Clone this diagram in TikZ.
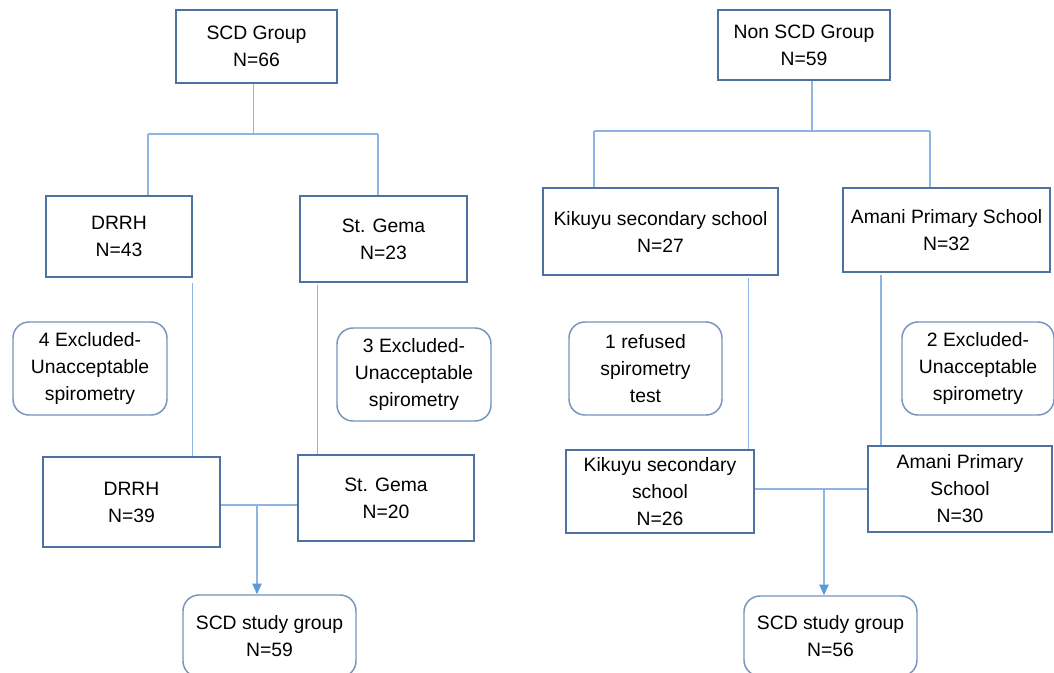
\documentclass[tikz,border=0pt]{standalone}
\usepackage{fontspec}
\setmainfont{Liberation Sans}
\usetikzlibrary{arrows.meta}
\definecolor{boxcol}{RGB}{79,113,160}
\definecolor{linecol}{RGB}{141,180,226}
\definecolor{roundcol}{RGB}{118,148,188}
\definecolor{tipcol}{RGB}{91,155,213}
\tikzset{
  sz/.style 2 args={minimum width=#1*0.75pt,minimum height=#2*0.75pt},
  txt/.style={align=center,inner sep=0pt,font=\fontsize{14.5}{20.25}\selectfont},
  box/.style={txt,draw=boxcol,line width=1.1pt},
  rbox/.style={txt,draw=roundcol,line width=1.1pt,rounded corners=12pt},
  link/.style={draw=linecol,line width=0.9pt},
  arr/.style={link,-{Triangle[width=7pt,length=8pt,color=tipcol]}}
}
\begin{document}
\begin{tikzpicture}[x=0.75pt,y=-0.75pt]
\useasboundingbox (0,0) rectangle (1054,672);

\node[box,sz={161}{73}] (scd) at (256.5,46.5) {SCD Group\\N=66};
\node[box,sz={172}{70}] (nscd) at (804,45) {Non SCD Group\\N=59};

\node[box,sz={146}{81}] (drrh) at (119,236.5) {DRRH\\N=43};
\node[box,sz={167}{86}] (gema) at (383.5,239) {St. Gema\\N=23};
\node[box,sz={235}{87}] (kik) at (660.5,231.5) {Kikuyu secondary school\\N=27};
\node[box,sz={207}{84}] (amani) at (946.5,230) {Amani Primary School\\N=32};

\node[rbox,sz={154}{93}] (exc1) at (90,368.5) {4 Excluded-\\Unacceptable\\spirometry};
\node[rbox,sz={154}{93}] (exc2) at (414,374.5) {3 Excluded-\\Unacceptable\\spirometry};
\node[rbox,sz={153}{93}] (refd) at (645.5,368.5) {1 refused\\spirometry\\test};
\node[rbox,sz={152}{93}] (exc3) at (978,368.5) {2 Excluded-\\Unacceptable\\spirometry};

\node[box,sz={177}{90}] (drrh2) at (131.5,502) {DRRH\\N=39};
\node[box,sz={176}{86}] (gema2) at (386,498) {St. Gema\\N=20};
\node[box,sz={188}{83}] (kik2) at (660,491.5) {Kikuyu secondary\\school\\N=26};
\node[box,sz={184}{86}] (amani2) at (960,489) {Amani Primary\\School\\N=30};

\node[rbox,sz={173}{82}] (study1) at (269.5,636) {SCD study group\\N=59};
\node[rbox,sz={173}{80}] (study2) at (830.5,636) {SCD study group\\N=56};

% split bars
\coordinate (lb1) at (148,134);
\coordinate (lb2) at (378,134);
\coordinate (rb1) at (594,131);
\coordinate (rb2) at (930,131);
\draw[link] (lb1) -- (lb2);
\draw[link] ([xshift=-2pt]scd.south) -- ([xshift=-2pt]scd.south |- lb1);
\draw[link] (lb1) -- (lb1 |- drrh.north);
\draw[link] (lb2) -- (lb2 |- gema.north);
\draw[link] (rb1) -- (rb2);
\draw[link] ([xshift=6pt]nscd.south) -- ([xshift=6pt]nscd.south |- rb1);
\draw[link] (rb1) -- (rb1 |- kik.north);
\draw[link] (rb2) -- (rb2 |- amani.north);

% down to second level
\draw[link] ([yshift=-4pt]drrh.south east) -- (drrh.south east |- drrh2.north);
\draw[link] ([xshift=13.5pt,yshift=-2pt]gema.south west) -- ([xshift=13.5pt]gema.south west |- gema2.north);
\draw[link] ([xshift=-22.5pt,yshift=-2pt]kik.south east) -- ([xshift=-22.5pt]kik.south east |- kik2.north);
\draw[link] ([xshift=29pt,yshift=-2pt]amani.south west) -- ([xshift=29pt]amani.south west |- amani2.north);

% merge into study groups
\coordinate (m1) at (257,505);
\coordinate (m2) at (824,489);
\draw[link] (drrh2.east |- m1) -- (gema2.west |- m1);
\draw[arr] (m1) -- (m1 |- study1.north);
\draw[link] (kik2.east |- m2) -- (amani2.west |- m2);
\draw[arr] (m2) -- (m2 |- study2.north);
\end{tikzpicture}
\end{document}
